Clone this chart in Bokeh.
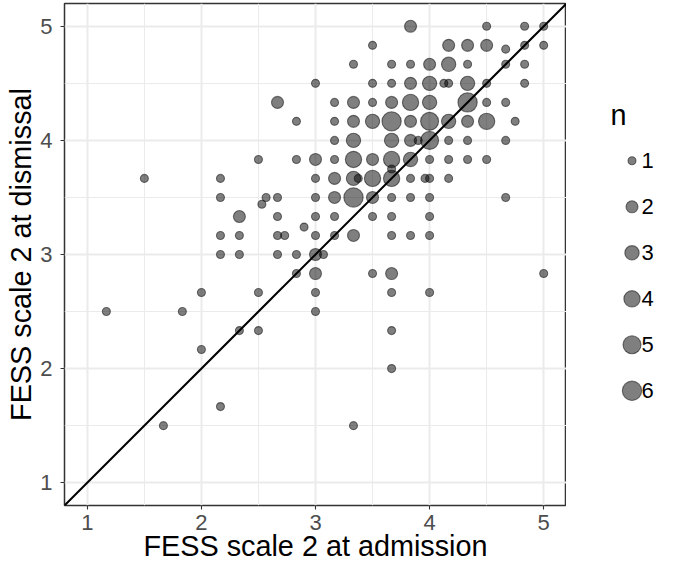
from bokeh.plotting import figure
from bokeh.models import ColumnDataSource, FixedTicker, Slope, Range1d
from bokeh.layouts import row
from bokeh.embed import file_html
from bokeh.resources import INLINE
from bokeh.core.properties import value

# ---------------- data ----------------
admission = [
    3.833, 4.5, 4.833, 5.0,
    3.5, 4.167, 4.333, 4.5, 4.833, 5.0, 4.667,
    3.333, 3.667, 3.833, 4.0, 4.167, 4.333, 4.667, 4.833,
    3.0, 3.5, 3.667, 3.833, 4.0, 4.125, 4.167, 4.333, 4.5, 4.833,
    2.667, 3.167, 3.333, 3.5, 3.667, 3.833, 4.0, 4.333, 4.5, 4.667,
    2.833, 3.167, 3.333, 3.5, 3.667, 3.833, 4.0, 4.167, 4.333, 4.5, 4.75,
    3.167, 3.333, 3.667, 3.833, 3.9, 4.0, 4.167, 4.333, 4.667,
    2.5, 2.833, 3.0, 3.167, 3.333, 3.5, 3.667, 3.833, 4.0, 4.167, 4.333, 4.5,
    3.667,
    1.5, 2.167, 3.0, 3.167, 3.333, 3.375, 3.5, 3.667, 3.833, 3.96, 4.0, 4.167,
    2.167, 2.567, 2.667, 3.0, 3.167, 3.333, 3.5, 3.667, 3.833, 4.0, 4.667,
    2.53,
    2.333, 2.667, 3.0, 3.167, 3.5, 3.667, 4.0,
    2.9,
    2.167, 2.333, 2.667, 2.73, 3.0, 3.167, 3.333, 3.667, 3.833, 4.0,
    2.167, 2.333, 2.667, 2.833, 3.0, 3.07,
    2.833, 3.0, 3.5, 3.667, 5.0,
    2.0, 2.5, 3.0, 3.667, 4.0,
    1.167, 1.833, 3.0,
    2.333, 2.5, 3.667,
    2.0,
    3.667,
    2.167,
    1.667, 3.333,
]
dismissal = [
    5.0, 5.0, 5.0, 5.0,
    4.833, 4.833, 4.833, 4.833, 4.833, 4.833, 4.8,
    4.667, 4.667, 4.667, 4.667, 4.667, 4.667, 4.667, 4.667,
    4.5, 4.5, 4.5, 4.5, 4.5, 4.5, 4.5, 4.5, 4.5, 4.5,
    4.333, 4.333, 4.333, 4.333, 4.333, 4.333, 4.333, 4.333, 4.333, 4.333,
    4.167, 4.167, 4.167, 4.167, 4.167, 4.167, 4.167, 4.167, 4.167, 4.167, 4.167,
    4.0, 4.0, 4.0, 4.0, 4.0, 4.0, 4.0, 4.0, 4.0,
    3.833, 3.833, 3.833, 3.833, 3.833, 3.833, 3.833, 3.833, 3.833, 3.833, 3.833, 3.833,
    3.75,
    3.667, 3.667, 3.667, 3.667, 3.667, 3.667, 3.667, 3.667, 3.667, 3.667, 3.667, 3.667,
    3.5, 3.5, 3.5, 3.5, 3.5, 3.5, 3.5, 3.5, 3.5, 3.5, 3.5,
    3.44,
    3.333, 3.333, 3.333, 3.333, 3.333, 3.333, 3.333,
    3.24,
    3.167, 3.167, 3.167, 3.167, 3.167, 3.167, 3.167, 3.167, 3.167, 3.167,
    3.0, 3.0, 3.0, 3.0, 3.0, 3.0,
    2.833, 2.833, 2.833, 2.833, 2.833,
    2.667, 2.667, 2.667, 2.667, 2.667,
    2.5, 2.5, 2.5,
    2.333, 2.333, 2.333,
    2.167,
    2.0,
    1.667,
    1.5, 1.5,
]
count = [
    2, 1, 1, 1,
    1, 2, 2, 2, 1, 1, 1,
    1, 1, 1, 2, 3, 1, 1, 1,
    1, 1, 1, 2, 3, 1, 1, 3, 1, 1,
    2, 1, 2, 1, 2, 4, 3, 6, 1, 1,
    1, 1, 2, 3, 6, 2, 5, 3, 2, 4, 1,
    1, 3, 3, 2, 1, 5, 1, 1, 1,
    1, 1, 2, 1, 4, 2, 4, 3, 1, 1, 1, 1,
    1,
    1, 1, 1, 2, 3, 1, 4, 4, 1, 1, 1, 1,
    1, 1, 1, 1, 2, 6, 2, 1, 1, 1, 1,
    1,
    2, 1, 1, 1, 1, 1, 1,
    1,
    1, 1, 1, 1, 1, 1, 2, 1, 1, 1,
    1, 1, 1, 1, 2, 1,
    1, 2, 1, 2, 1,
    1, 1, 1, 1, 1,
    1, 1, 1,
    1, 1, 1,
    1,
    1,
    1,
    1, 1,
]
legend_n = [1, 2, 3, 4, 5, 6]
tick_values = [1, 2, 3, 4, 5]
minor_values = [1.5, 2.5, 3.5, 4.5]
x_title = "FESS scale 2 at admission"
y_title = "FESS scale 2 at dismissal"
legend_title = "n"

# ---------------- styling ----------------
FONT = "Liberation Sans"
SIZE_SCALE = {1: 8.0, 2: 12.0, 3: 14.3, 4: 16.3, 5: 18.0, 6: 19.3}  # marker diameter (px) per count
TITLE_SIZE = "28.8px"
TEXT_SIZE = "22px"
FW, FH = 502, 502          # frame size
TOP, BOTTOM = 3, 62        # borders

src = ColumnDataSource(dict(x=admission, y=dismissal, n=count,
                            sz=[SIZE_SCALE[c] for c in count]))

p = figure(frame_width=FW, frame_height=FH,
           x_range=Range1d(0.8, 5.2), y_range=Range1d(0.8, 5.2),
           output_backend="svg", toolbar_location=None,
           min_border_left=64, min_border_top=TOP, min_border_right=0,
           min_border_bottom=BOTTOM)
p.background_fill_color = "white"
p.border_fill_color = "white"
p.outline_line_color = "#333333"
p.outline_line_width = 1.5

for ax in (p.xaxis[0], p.yaxis[0]):
    ax.ticker = FixedTicker(ticks=tick_values, minor_ticks=minor_values)
    ax.axis_line_color = None
    ax.major_tick_line_color = "#333333"
    ax.major_tick_line_width = 1.1
    ax.major_tick_in = 0
    ax.major_tick_out = 4
    ax.minor_tick_line_color = None
    ax.major_label_text_font = FONT
    ax.major_label_text_font_size = TEXT_SIZE
    ax.major_label_text_color = "#4D4D4D"
    ax.axis_label_text_font = FONT
    ax.axis_label_text_font_size = TITLE_SIZE
    ax.axis_label_text_font_style = "normal"
    ax.axis_label_text_color = "black"

p.xaxis.axis_label = x_title
p.yaxis.axis_label = y_title
p.xaxis.major_label_standoff = 5
p.yaxis.major_label_standoff = 8
p.xaxis.axis_label_standoff = -3
p.yaxis.axis_label_standoff = 0

for g in p.grid:
    g.grid_line_color = "#EBEBEB"
    g.grid_line_width = 2
    g.minor_grid_line_color = "#EBEBEB"
    g.minor_grid_line_width = 1

p.scatter(x="x", y="y", size="sz", source=src, marker="circle",
          fill_color="black", fill_alpha=0.5,
          line_color="black", line_alpha=0.5, line_width=1.1)

p.add_layout(Slope(gradient=1, y_intercept=0, line_color="black", line_width=2))

# ---------------- legend panel (pixel coordinates inside its own frame) ----------------
LW = 104
lg = figure(frame_width=LW, frame_height=FH, x_range=Range1d(0, LW), y_range=Range1d(FH, 0),
            output_backend="svg", toolbar_location=None,
            min_border_left=0, min_border_right=0,
            min_border_top=TOP, min_border_bottom=BOTTOM)
lg.axis.visible = False
lg.grid.visible = False
lg.outline_line_color = None
lg.background_fill_color = "white"
lg.border_fill_color = "white"

key_y = [157.3 + 46 * i for i in range(len(legend_n))]
lsrc = ColumnDataSource(dict(x=[65.5] * len(legend_n), y=key_y,
                             sz=[SIZE_SCALE[k] for k in legend_n],
                             tx=[75] * len(legend_n),
                             lab=[str(k) for k in legend_n]))
lg.scatter(x="x", y="y", size="sz", source=lsrc, marker="circle",
           fill_color="black", fill_alpha=0.5,
           line_color="black", line_alpha=0.5, line_width=1.1)
lg.text(x="tx", y="y", text="lab", source=lsrc, text_font=value(FONT),
        text_font_size=TEXT_SIZE, text_baseline="middle", text_align="left",
        text_color="black")
lg.text(x=[44], y=[111], text=[legend_title], text_font=value(FONT),
        text_font_size=TITLE_SIZE, text_baseline="alphabetic", text_align="left",
        text_color="black")

layout = row(p, lg)
open("out.html", "w").write(file_html(layout, INLINE))
